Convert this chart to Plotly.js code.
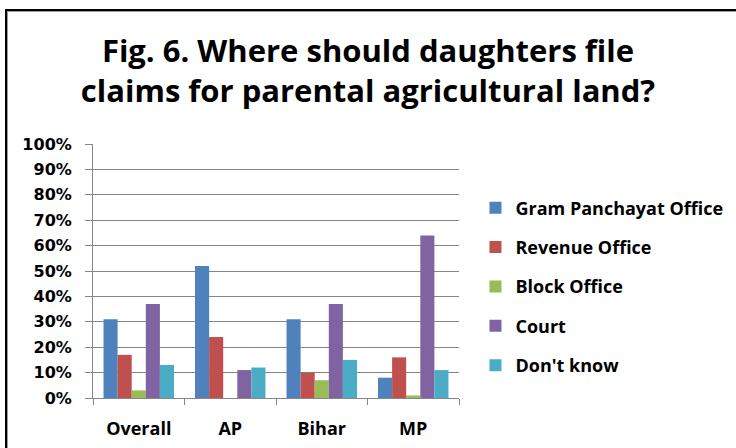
<!DOCTYPE html>
<html>
<head>
<meta charset="utf-8">
<script src="https://cdn.plot.ly/plotly-3.0.1.min.js"></script>
<style>
  html, body { margin: 0; padding: 0; background: #fff; }
  #chart { width: 736px; height: 448px; }
  #frame { position: absolute; left: 5px; top: 9px; width: 760px; height: 460px;
           border-top: 2px solid #000; border-left: 2px solid #000;
           box-shadow: inset 1px 1px 0 #999; pointer-events: none; }
</style>
</head>
<body>
<div id="chart"></div>
<div id="frame"></div>
<script>
const categories = ["Overall", "AP", "Bihar", "MP"];
const seriesNames = ["Gram Panchayat Office", "Revenue Office", "Block Office", "Court", "Don't know"];
const gramPanchayat = [31, 52, 31, 8];
const revenueOffice = [17, 24, 10, 16];
const blockOffice = [3, 0, 7, 1];
const court = [37, 11, 37, 64];
const dontKnow = [13, 12, 15, 11];
const colors = ["#4F81BD", "#C0504D", "#9BBB59", "#8064A2", "#4BACC6"];
const tickVals = [0, 10, 20, 30, 40, 50, 60, 70, 80, 90, 100];
const tickText = ["0%", "10%", "20%", "30%", "40%", "50%", "60%", "70%", "80%", "90%", "100%"];

const values = [gramPanchayat, revenueOffice, blockOffice, court, dontKnow];
const traces = values.map((v, i) => ({
  type: "bar",
  name: seriesNames[i],
  x: categories,
  y: v,
  marker: { color: colors[i] },
  legendgroup: "g" + i,
  hoverinfo: "none"
}));

const FONT = "'Open Sans', Lato, sans-serif";
const TICKFONT = "'DejaVu Sans', sans-serif";
const layout = {
  width: 736, height: 448,
  margin: { l: 93, r: 277, t: 144, b: 50, autoexpand: false },
  paper_bgcolor: "#fff", plot_bgcolor: "#fff",
  barmode: "group", bargap: 0.23, bargroupgap: 0,
  title: {
    text: "<b>Fig. 6. Where should daughters file<br>claims for parental agricultural land?</b>",
    font: { family: FONT, size: 31, color: "#000" },
    x: 0.5, xref: "container", xanchor: "center",
    y: 1 - 62 / 448, yref: "container", yanchor: "top"
  },
  xaxis: {
    type: "category",
    showgrid: false, showline: true, linecolor: "#868686", linewidth: 1,
    ticks: "outside", tickson: "boundaries", ticklen: 6, tickcolor: "#868686",
    tickfont: { family: FONT, size: 18, color: "#000", weight: "bold" },
    ticklabelstandoff: 14,
    fixedrange: true
  },
  yaxis: {
    range: [0, 100],
    tickvals: tickVals, ticktext: tickText,
    showgrid: true, gridcolor: "#868686", gridwidth: 1,
    showline: true, linecolor: "#868686", linewidth: 1,
    ticks: "outside", ticklen: 7, tickcolor: "#868686",
    tickfont: { family: TICKFONT, size: 16, color: "#000", weight: "bold" },
    ticklabelstandoff: 10,
    zeroline: false, fixedrange: true
  },
  showlegend: true,
  legend: {
    x: 1.045, xanchor: "left", y: 0.821, yanchor: "top",
    traceorder: "grouped", tracegroupgap: 13,
    font: { family: FONT, size: 18, color: "#000", weight: "bold" },
    itemwidth: 30, bgcolor: "rgba(0,0,0,0)"
  }
};

Plotly.newPlot("chart", traces, layout, { displayModeBar: false, staticPlot: true });
</script>
</body>
</html>
